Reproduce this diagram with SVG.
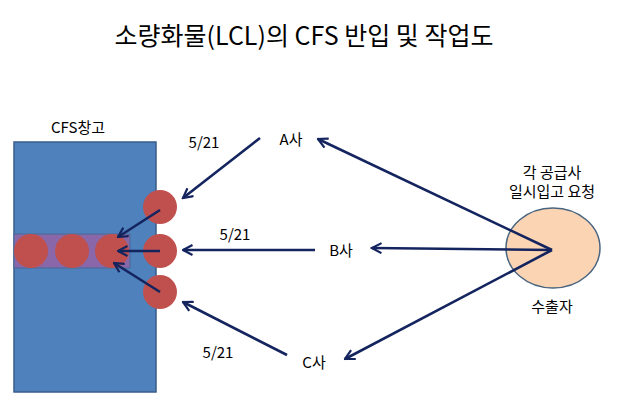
<svg xmlns="http://www.w3.org/2000/svg" width="634" height="419" viewBox="0 0 634 419">
<defs>
<marker id="ah" viewBox="0 0 12 12" refX="1.5" refY="6" markerWidth="12" markerHeight="12" markerUnits="userSpaceOnUse" orient="auto">
<path d="M11,1 L1.5,6 L11,11" fill="none" stroke="#14245E" stroke-width="2.2"/>
</marker>
<style>
text{font-family:"Malgun Gothic","Noto Sans CJK KR","Noto Sans",sans-serif;fill:#000}
.lbl{font-size:15px}
.con{stroke:#14245E;stroke-width:2.6;fill:none;marker-start:url(#ah)}
.box{fill:#4F81BD;stroke:#385D8A;stroke-width:1.5}
.dot{fill:#C0504D}
</style>
</defs>
<rect width="634" height="419" fill="#fff"/>
<text x="304" y="45" font-size="25" text-anchor="middle">소량화물(LCL)의 CFS 반입 및 작업도</text>
<g id="warehouse">
<rect class="box" x="14" y="142" width="142" height="250"/>
<text class="lbl" x="78" y="133" text-anchor="middle">CFS창고</text>
</g>
<g id="band">
<rect x="14" y="234" width="116" height="34" fill="#8A67A8" stroke="#4F6B9A" stroke-width="1.2"/>
<circle class="dot" cx="31" cy="251" r="17"/>
<circle class="dot" cx="72" cy="251" r="17"/>
<circle class="dot" cx="112" cy="251" r="17"/>
</g>
<g id="cargoA"><circle class="dot" cx="160" cy="207" r="17"/></g>
<g id="cargoB"><circle class="dot" cx="160" cy="251" r="17"/></g>
<g id="cargoC"><circle class="dot" cx="160" cy="292" r="17"/></g>
<g id="supplierA"><text class="lbl" x="291" y="145" text-anchor="middle">A사</text></g>
<g id="supplierB"><text class="lbl" x="341" y="256" text-anchor="middle">B사</text></g>
<g id="supplierC"><text class="lbl" x="314" y="368" text-anchor="middle">C사</text></g>
<g id="exporter">
<ellipse cx="553" cy="248" rx="47" ry="40" fill="#FBD4B4" stroke="#4A6580" stroke-width="1.5"/>
<text class="lbl" x="552" y="178" text-anchor="middle">각 공급사</text>
<text class="lbl" x="552" y="197" text-anchor="middle">일시입고 요청</text>
<text class="lbl" x="552" y="312" text-anchor="middle">수출자</text>
</g>
<g id="connectors">
<path class="con" d="M183,198 L260,138"/>
<path class="con" d="M183,250 L315,250"/>
<path class="con" d="M183,302 L287,355"/>
<path class="con" d="M118,237 L160,210"/>
<path class="con" d="M118,251 L160,251"/>
<path class="con" d="M114,263 L160,292"/>
<path class="con" d="M318,139 L552,250"/>
<path class="con" d="M372,248 L552,250"/>
<path class="con" d="M345,359 L552,250"/>
</g>
<g id="dates">
<text class="lbl" x="204" y="148" text-anchor="middle">5/21</text>
<text class="lbl" x="235" y="240" text-anchor="middle">5/21</text>
<text class="lbl" x="218" y="358" text-anchor="middle">5/21</text>
</g>
</svg>
